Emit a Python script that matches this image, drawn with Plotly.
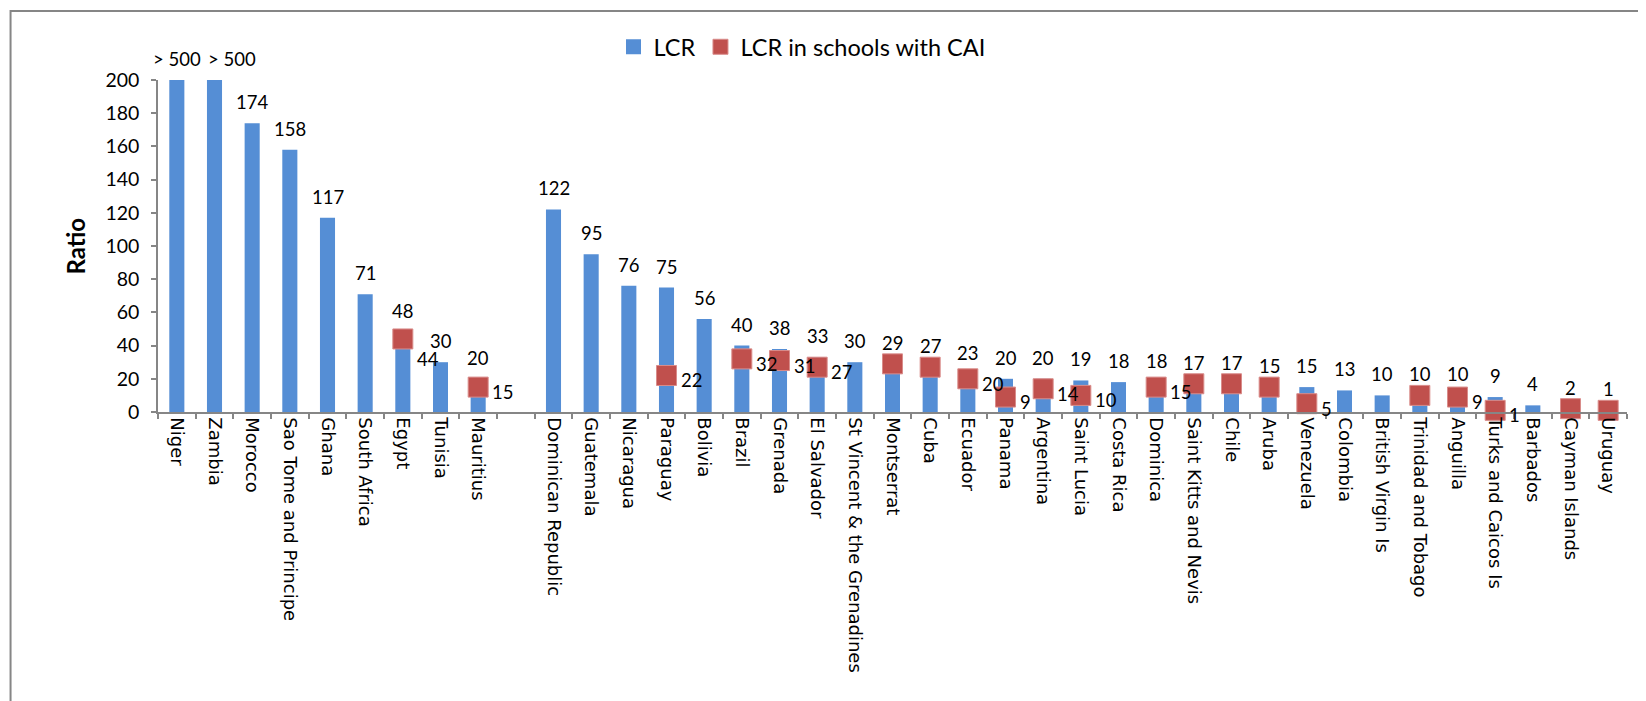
import plotly.graph_objects as go

countries = ["Niger", "Zambia", "Morocco", "Sao Tome and Principe", "Ghana", "South Africa",
             "Egypt", "Tunisia", "Mauritius", " ", "Dominican Republic", "Guatemala", "Nicaragua",
             "Paraguay", "Bolivia", "Brazil", "Grenada", "El Salvador", "St Vincent & the Grenadines",
             "Montserrat", "Cuba", "Ecuador", "Panama", "Argentina", "Saint Lucia", "Costa Rica",
             "Dominica", "Saint Kitts and Nevis", "Chile", "Aruba", "Venezuela", "Colombia",
             "British Virgin Is", "Trinidad and Tobago", "Anguilla", "Turks and Caicos Is",
             "Barbados", "Cayman Islands", "Uruguay"]

lcr = [500, 500, 174, 158, 117, 71, 48, 30, 20, None, 122, 95, 76, 75, 56, 40, 38, 33, 30,
       29, 27, 23, 20, 20, 19, 18, 18, 17, 17, 15, 15, 13, 10, 10, 10, 9, 4, 2, 1]
lcr_labels = ["> 500", "> 500", "174", "158", "117", "71", "48", "30", "20", "", "122", "95",
              "76", "75", "56", "40", "38", "33", "30", "29", "27", "23", "20", "20", "19", "18",
              "18", "17", "17", "15", "15", "13", "10", "10", "10", "9", "4", "2", "1"]

cai = [None, None, None, None, None, None, 44, None, 15, None, None, None, None, 22, None, 32,
       31, 27, None, 29, 27, 20, 9, 14, 10, None, 15, 17, 17, 15, 5, None, None, 10, 9, 1,
       None, 2, 1]
cai_labels = ["", "", "", "", "", "", "44", "", "15", "", "", "", "", "22", "", "32", "31",
              "27", "", "", "", "20", "9", "14", "10", "", "15", "", "", "", "5", "", "", "",
              "9", "1", "", "", ""]

y_max = 200
y_ticks = list(range(0, 201, 20))

W, H = 1646, 701
ML, MR, MT, MB = 149.5, 27, 72, 297
PW, PH = W - ML - MR, H - MT - MB

BLUE = "#558ED5"
RED = "#C0504D"
AXIS = "#868686"
CAL = "Lato, 'Open Sans', sans-serif"

# label placement tweaks (style only)
cai_label_nudge = {"Egypt": -20}

fig = go.Figure()
fig.add_trace(go.Bar(
    x=countries, y=lcr, name="LCR", showlegend=False,
    marker=dict(color=BLUE, line=dict(width=0)),
))
fig.add_trace(go.Scatter(
    x=countries, y=cai, name="LCR in schools with CAI", mode="markers", showlegend=False,
    marker=dict(symbol="square", size=20, color=RED, line=dict(width=1, color="#D98C8A")),
    cliponaxis=False,
))
# legend entries
fig.add_trace(go.Scatter(x=[None], y=[None], name="LCR", mode="markers",
                         marker=dict(symbol="square", size=15, color=BLUE)))
fig.add_trace(go.Scatter(x=[None], y=[None], name="LCR in schools with CAI", mode="markers",
                         marker=dict(symbol="square", size=15, color=RED,
                                     line=dict(width=1, color="#D98C8A"))))

prev_long = False
for c, v, t in zip(countries, lcr, lcr_labels):
    if v is None or not t:
        prev_long = False
        continue
    is_long = len(t) > 3
    fig.add_annotation(x=c, y=min(v, y_max), text=t, showarrow=False, yanchor="middle",
                       yshift=21, xshift=17 if (is_long and prev_long) else 0,
                       font=dict(family=CAL, size=18.5, color="#000000"))
    prev_long = is_long

for c, v, t in zip(countries, cai, cai_labels):
    if v is None or not t:
        continue
    fig.add_annotation(x=c, y=v, text=t, showarrow=False, xanchor="left", yanchor="middle",
                       xshift=12, yshift=cai_label_nudge.get(c, -5),
                       font=dict(family=CAL, size=18.5, color="#000000"))

fig.add_annotation(xref="paper", yref="paper", x=(66 - ML) / PW, y=0.5, text="<b>Ratio</b>",
                   textangle=-90, showarrow=False, xanchor="center", yanchor="middle",
                   font=dict(family=CAL, size=24, color="#000000"))

# outer chart frame (cut off at right and bottom as in the original)
fig.add_shape(type="rect", xref="paper", yref="paper",
              x0=(2 - ML) / PW, x1=(W + 20 - ML) / PW,
              y0=-(H + 20 - MT - PH) / PH, y1=1 + (MT - 3) / PH,
              line=dict(color=AXIS, width=2), fillcolor="rgba(0,0,0,0)", layer="below")

fig.update_layout(
    width=W, height=H,
    margin=dict(l=ML, r=MR, t=MT, b=MB, autoexpand=False),
    paper_bgcolor="white", plot_bgcolor="white",
    bargap=0.6,
    showlegend=True,
    legend=dict(orientation="h", xref="container", yref="container",
                x=794 / W, xanchor="center", y=1 - 39 / H, yanchor="middle",
                font=dict(family=CAL, size=23.5, color="#000000"),
                itemsizing="trace", itemwidth=30, bgcolor="rgba(0,0,0,0)"),
    xaxis=dict(type="category", categoryorder="array", categoryarray=countries,
               range=[-0.5, len(countries) - 0.5],
               tickangle=90, tickson="boundaries", ticks="outside", ticklen=5,
               tickcolor=AXIS, tickwidth=1.5, showline=True, linecolor=AXIS, linewidth=1.5,
               showgrid=False, zeroline=False,
               tickfont=dict(family="DejaVu Sans", size=18, color="#000000")),
    yaxis=dict(range=[0, y_max], tickvals=y_ticks, ticks="outside", ticklen=5,
               tickcolor=AXIS, tickwidth=1.5, showline=True, linecolor=AXIS, linewidth=1.5,
               showgrid=False, zeroline=False, ticklabelstandoff=8,
               tickfont=dict(family=CAL, size=19.5, color="#000000")),
)

fig.write_html("out.html")
